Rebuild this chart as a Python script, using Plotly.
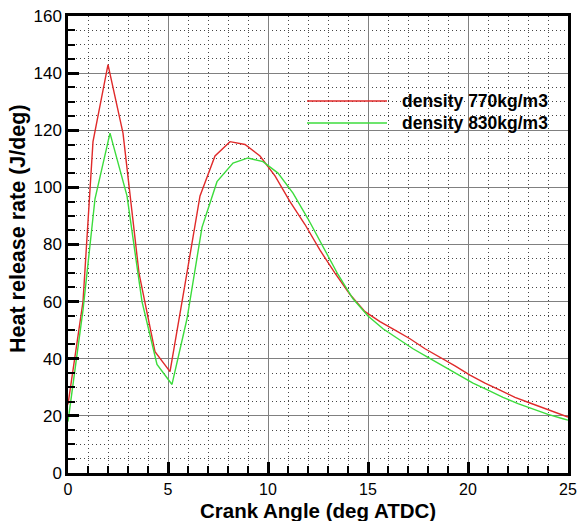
import plotly.graph_objects as go

# Density 770 kg/m3 (red)
x_770 = [0, 0.75, 1.25, 2.0, 2.75, 3.55, 4.35, 5.1, 5.85, 6.6, 7.35, 8.1, 8.85,
         9.6, 10.35, 11.1, 11.85, 12.6, 13.35, 14.1, 14.85, 15.6, 16.35, 17.1,
         17.85, 18.6, 19.35, 20.1, 20.85, 21.6, 22.35, 23.1, 23.85, 24.6, 25.0]
y_770 = [24, 60, 116, 143, 119, 70, 42.5, 35.5, 66, 97, 111, 116, 115,
         111, 104, 95, 87, 78, 70, 62.5, 56.5, 53, 50, 47,
         43.5, 40.6, 37.5, 34.3, 31.5, 29, 26.5, 24.5, 22.5, 20.5, 19.6]

# Density 830 kg/m3 (green)
x_830 = [0, 0.75, 1.35, 2.1, 2.95, 3.7, 4.45, 5.2, 5.95, 6.7, 7.45, 8.25, 9.0,
         9.75, 10.5, 11.25, 12.0, 12.75, 13.5, 14.25, 15.0, 15.75, 16.5, 17.25,
         18.0, 18.75, 19.5, 20.25, 21.0, 21.75, 22.5, 23.25, 24.0, 24.75, 25.0]
y_830 = [18, 57, 96, 119, 97, 60, 38, 31, 54, 86, 102, 108.5, 110.3,
         109, 105, 98, 89, 79, 69.5, 61, 55, 50.5, 47, 43.5,
         40.5, 37.5, 34.5, 31.5, 29, 26.5, 24.3, 22.3, 20.5, 19, 18.5]

series_names = ["density 770kg/m3", "density 830kg/m3"]
series_colors = ["#e02a2a", "#3cdc3c"]

x_ticks = [0, 5, 10, 15, 20, 25]
y_ticks = [0, 20, 40, 60, 80, 100, 120, 140, 160]

FONT = "Liberation Sans, Arial, sans-serif"

fig = go.Figure()
for xs, ys, name, col in [(x_770, y_770, series_names[0], series_colors[0]),
                          (x_830, y_830, series_names[1], series_colors[1])]:
    fig.add_trace(go.Scatter(x=xs, y=ys, mode="lines", name=name,
                             line=dict(color=col, width=1.4), showlegend=False))

axis_common = dict(
    showline=True, linecolor="black", linewidth=2.5, mirror=True,
    ticks="inside", ticklen=11, tickwidth=2.5, tickcolor="black",
    showgrid=True, gridcolor="#808080", gridwidth=1.2,
    zeroline=False, automargin=False,
)

minor_common = dict(ticks="inside", ticklen=7, tickwidth=1.5, tickcolor="black",
                    showgrid=True, gridcolor="#444444", griddash="1px,3px", gridwidth=1)

fig.update_xaxes(**axis_common, range=[0, 25], tickvals=x_ticks,
                 tickfont=dict(family=FONT, size=16, color="black"),
                 minor=dict(dtick=1, tick0=0, **minor_common))
fig.update_yaxes(**axis_common, range=[0, 160], tickvals=y_ticks,
                 tickfont=dict(family=FONT, size=17, color="black"),
                 minor=dict(dtick=5, tick0=0, **minor_common))

# legend drawn as lines + text
leg_y = [0.814, 0.766]
for i in range(2):
    fig.add_shape(type="line", xref="paper", yref="paper",
                  x0=0.478, x1=0.638, y0=leg_y[i], y1=leg_y[i],
                  line=dict(color=series_colors[i], width=1.4))
    fig.add_annotation(xref="paper", yref="paper", x=0.664, y=leg_y[i],
                       xanchor="left", yanchor="middle", showarrow=False,
                       text="<b>%s</b>" % series_names[i],
                       font=dict(family=FONT, size=17.5, color="black"))

fig.add_annotation(xref="paper", yref="paper", x=0.5, y=-0.083,
                   xanchor="center", yanchor="middle", showarrow=False,
                   text="<b>Crank Angle (deg ATDC)</b>",
                   font=dict(family=FONT, size=20.5, color="black"))
fig.add_annotation(xref="paper", yref="paper", x=-0.1, y=0.534,
                   xanchor="center", yanchor="middle", showarrow=False, textangle=-90,
                   text="<b>Heat release rate (J/deg)</b>",
                   font=dict(family=FONT, size=21.5, color="black"))

fig.update_layout(
    width=579, height=521,
    margin=dict(l=68, r=11, t=16, b=48),
    paper_bgcolor="white", plot_bgcolor="white",
    showlegend=False,
)

fig.write_html("out.html")
